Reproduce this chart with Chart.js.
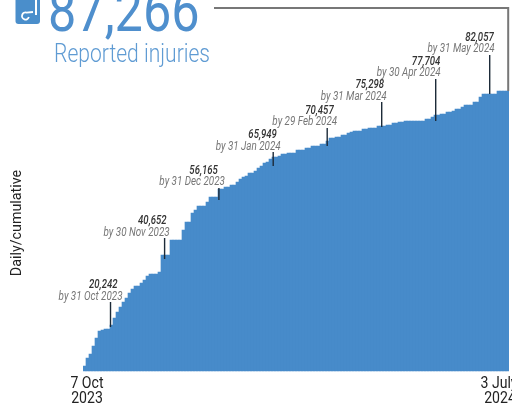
<!DOCTYPE html>
<html>
<head>
<meta charset="utf-8">
<style>
  html, body { margin: 0; padding: 0; background: #fff; overflow: hidden; }
  canvas { display: block; }
</style>
<script src="https://cdn.jsdelivr.net/npm/chart.js@4"></script>
</head>
<body>
<canvas id="chart" width="512" height="405"></canvas>
<script>
// Cumulative reported injuries
const values = [
  1850, 4310, 5540, 8000, 10460, 12620, 12920, 13230, 13230, 14460,
  16620, 18460, 20000, 21540, 22770, 24310, 25540, 26460, 26460, 27390,
  28310, 29540, 30150, 30150, 30150, 30770, 36000, 36000, 36000, 40620,
  40620, 40620, 40620, 43690, 46150, 46150, 48920, 49850, 51080, 51080,
  51080, 52310, 53850, 53850, 53850, 56310, 56310, 56920, 56920, 57540,
  57540, 58460, 59390, 60000, 60310, 61230, 61230, 61850, 62770, 63390,
  64310, 64620, 65540, 66150, 66150, 66460, 67080, 67080, 67390, 67390,
  67390, 68310, 68310, 68310, 68920, 68920, 69540, 69540, 69540, 70150,
  70150, 71080, 72000, 72000, 72310, 72310, 72920, 72920, 73540, 73850,
  74150, 74150, 74150, 74770, 74770, 75080, 75080, 75080, 75690, 75690,
  75690, 76000, 76000, 76620, 76620, 76920, 76920, 77230, 77230, 77230,
  77230, 77230, 77230, 77230, 77850, 77850, 78460, 79080, 79080, 79390,
  79390, 80000, 80000, 80310, 80920, 80920, 81540, 82150, 82150, 82150,
  83080, 83080, 84620, 85540, 85540, 85540, 85540, 85540, 86460, 86460,
  86460, 86460
];
const categories = values.map((v, i) => i);
const gridValues = [20000, 40000, 60000];

const startLabel = ["7 Oct", "2023"];
const endLabel = ["3 July", "2024"];
const totalLabel = "87,266";
const totalCaption = "Reported injuries";
const yTitle = "Daily/cumulative";

// Monthly call-outs
const markTotals = ["20,242", "40,652", "56,165", "65,949", "70,457", "75,298", "77,704", "82,057"];
const markDates = ["by 31 Oct 2023", "by 30 Nov 2023", "by 31 Dec 2023", "by 31 Jan 2024",
  "by 29 Feb 2024", "by 31 Mar 2024", "by 30 Apr 2024", "by 31 May 2024"];
const markIndex = [8.67, 26.7, 44.8, 62.9, 80.9, 99.07, 117.07, 135.07];

// Call-out layout: text offsets from the tick, tick length above / into the bar
const markDx = [12, 5, 6, 7.5, 10, 5, 5, 5];
const markNumDx = [7, 2, -1, 3.7, 6.5, 2.3, 4.7, 4];
const markRise = [23, 17, 1, 5, 13, 24, 36, 39];
const markSink = [2, 4, 11, 9, 5, 1, 6, 0];

const BLUE = "#478bca";

function squeezed(ctx, text, x, y, font, color, sx, align) {
  ctx.save();
  ctx.font = font;
  ctx.fillStyle = color;
  ctx.textAlign = align;
  ctx.textBaseline = "alphabetic";
  ctx.translate(x, y);
  ctx.scale(sx, 1);
  ctx.fillText(text, 0, 0);
  ctx.restore();
}

const overlay = {
  id: "overlay",
  afterDraw(chart) {
    const ctx = chart.ctx;
    const x = chart.scales.x;
    const y = chart.scales.y;

    // icon
    ctx.save();
    ctx.fillStyle = "#4a8ecb";
    ctx.beginPath();
    ctx.roundRect(15.5, -8, 24.5, 32, 3);
    ctx.fill();
    ctx.strokeStyle = "#fff";
    ctx.lineWidth = 2;
    ctx.beginPath();
    ctx.moveTo(36, -2);
    ctx.lineTo(36, 15);
    ctx.stroke();
    ctx.lineWidth = 1.8;
    ctx.beginPath();
    ctx.arc(25.5, 16, 3.5, 0.3, Math.PI * 1.6);
    ctx.lineTo(33, 12);
    ctx.stroke();
    ctx.restore();

    // headline
    squeezed(ctx, totalLabel, 48, 31, "400 60px Roboto", "#4f8fcd", 0.84, "left");
    squeezed(ctx, totalCaption, 54, 62, "300 25px Roboto", "#5f9bd3", 0.843, "left");

    // connector from the headline to the last bar
    ctx.save();
    ctx.strokeStyle = "#777";
    ctx.lineWidth = 2;
    ctx.beginPath();
    ctx.moveTo(214, 8);
    ctx.lineTo(508.2, 8);
    ctx.lineTo(508.2, y.getPixelForValue(values[values.length - 1]));
    ctx.stroke();
    ctx.restore();

    // y title
    ctx.save();
    ctx.translate(21, 223);
    ctx.rotate(-Math.PI / 2);
    squeezed(ctx, yTitle, 0, 0, "400 14px Roboto", "#222", 1.02, "center");
    ctx.restore();

    // x labels
    const x0 = x.getPixelForValue(0) + 2.5;
    const x1 = x.getPixelForValue(values.length - 1) - 8.5;
    squeezed(ctx, startLabel[0], x0, 388, "400 16px Roboto", "#222", 0.88, "center");
    squeezed(ctx, startLabel[1], x0, 403, "400 16px Roboto", "#222", 0.88, "center");
    squeezed(ctx, endLabel[0], x1, 388, "400 16px Roboto", "#222", 0.88, "center");
    squeezed(ctx, endLabel[1], x1 + 1, 403, "400 16px Roboto", "#222", 0.88, "center");

    // call-outs
    markTotals.forEach((total, i) => {
      const px = x.getPixelForValue(markIndex[i]);
      const barTop = y.getPixelForValue(values[Math.round(markIndex[i])]);
      const top = barTop - markRise[i];
      ctx.save();
      ctx.strokeStyle = "#1c2a38";
      ctx.lineWidth = 1.4;
      ctx.beginPath();
      ctx.moveTo(px, top);
      ctx.lineTo(px, barTop + markSink[i]);
      ctx.stroke();
      ctx.restore();
      squeezed(ctx, markDates[i], px + markDx[i], top - 2.5, "italic 400 12px Roboto", "#777", 0.82, "right");
      squeezed(ctx, total, px + markNumDx[i], top - 14, "italic 500 12px Roboto", "#333", 0.8, "right");
    });
  }
};

new Chart(document.getElementById("chart").getContext("2d"), {
  type: "bar",
  data: {
    labels: categories,
    datasets: [{
      data: values,
      backgroundColor: BLUE,
      borderWidth: 0,
      barPercentage: 1,
      categoryPercentage: 1
    }]
  },
  options: {
    responsive: false,
    animation: false,
    layout: { padding: { left: 83, right: 3, top: 79.5, bottom: 0 } },
    plugins: { legend: { display: false }, tooltip: { enabled: false } },
    scales: {
      x: {
        grid: { display: false },
        border: { display: false },
        ticks: { display: false },
        afterFit(scale) { scale.height = 33; }
      },
      y: {
        min: 0,
        max: 90000,
        afterFit(scale) { scale.width = 0; },
        border: { display: false },
        ticks: { display: false, stepSize: 20000 },
        grid: {
          drawTicks: false,
          lineWidth: 2,
          color: (c) => gridValues.includes(c.tick.value) ? "#dcdcdc" : "transparent"
        }
      }
    }
  },
  plugins: [overlay]
});
</script>
</body>
</html>
